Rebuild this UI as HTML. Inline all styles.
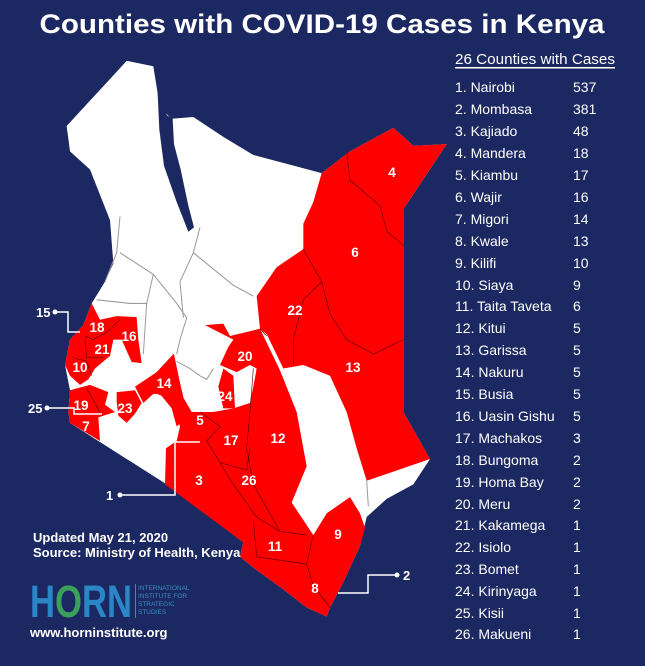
<!DOCTYPE html>
<html><head><meta charset="utf-8"><style>
html,body{margin:0;padding:0;background:#1c2862;}
svg{display:block;font-family:"Liberation Sans",sans-serif;}
</style></head><body>
<svg width="645" height="666" viewBox="0 0 645 666" xmlns="http://www.w3.org/2000/svg">
<rect width="645" height="666" fill="#1c2862"/>
<text x="322" y="33" text-anchor="middle" font-size="27" font-weight="bold" fill="#fff" textLength="565" lengthAdjust="spacingAndGlyphs">Counties with COVID-19 Cases in Kenya</text>

<g transform="translate(20,50) scale(0.33333,0.362)">
<polygon fill="#fff" points="320,30 400,45 420,160 455,190 520,185 610,240 700,290 905,340 990,280 1120,215 1180,265 1280,260 1150,440 1150,1000 1230,1130 1180,1200 1100,1240 1040,1290 1020,1370 970,1470 930,1540 920,1565 860,1540 790,1490 700,1430 660,1400 670,1360 440,1200 235,1080 150,1030 145,1000 150,940 135,870 150,800 190,760 215,700 255,640 280,590 270,470 210,330 150,280 140,210 200,150 260,90"/>
<polygon fill="#1c2862" points="412,100 440,180 458,190 462,260 482,330 505,430 522,490 505,502 470,420 432,320 418,220"/>
<g fill="none" stroke="#999" stroke-width="3">
<polyline points="300,460 290,560 255,640"/>
<polyline points="300,560 400,620 470,700 500,740 480,800 470,840"/>
<polyline points="400,620 380,700 370,840"/>
<polyline points="540,490 520,560 480,640 490,740"/>
<polyline points="520,560 640,650 700,680"/>
<polyline points="230,690 330,700 380,700"/>
<polyline points="470,860 510,880 540,900 560,910 580,880"/>
<polyline points="1040,1190 1045,1260"/>
</g>
<polygon fill="#f00" points="905,340 990,280 1120,215 1180,265 1280,260 1150,440 1150,1000 1230,1130 1040,1190 1010,1100 980,1000 930,900 850,870 790,880 740,785 720,770 710,680 770,600 850,550 850,480 880,420"/>
<polygon fill="#f00" points="555,760 610,756 630,790 720,770 780,885 830,1000 860,1150 815,1250 880,1340 920,1280 990,1235 1020,1280 1035,1320 1020,1370 970,1470 930,1540 920,1565 860,1540 790,1490 700,1430 660,1400 670,1360 435,1200 438,1100 470,1080 480,1040 470,1000 440,960 410,950 400,900 460,840 470,880 490,960 515,1000 580,1000 640,990 690,975 700,930 710,880 690,870 650,890 600,870 625,820 640,800"/>
<polygon fill="#f00" points="610,880 640,900 645,990 610,990 595,930"/>
<polygon fill="#f00" points="345,930 410,890 462,840 480,920 495,980 510,1010 470,1040 455,990 420,950 400,950 370,975"/>
<polygon fill="#f00" points="290,945 345,940 365,975 345,1005 320,1030 295,1010 290,970"/>
<polygon fill="#f00" points="215,700 240,745 290,735 350,738 355,800 365,865 335,862 305,800 280,800 270,845 225,880 205,910 180,925 150,900 135,870 150,800 190,760"/>
<polygon fill="#f00" points="150,940 210,925 265,945 255,980 285,1000 235,1015 240,1080 150,1030 145,1000"/>
<g fill="none" stroke="#600" stroke-width="2">
<polyline points="980,280 990,360 1080,430 1100,500 1150,540"/>
<polyline points="850,550 905,640 930,730 980,800 1060,840 1150,800"/>
<polyline points="905,640 850,690 820,800 820,870"/>
<polyline points="720,770 740,790"/>
<polyline points="700,880 690,1000 680,1100 700,1200 780,1330 860,1340"/>
<polyline points="540,1000 600,1040 560,1080 600,1140 640,1200 710,1290 780,1330"/>
<polyline points="600,1140 680,1160 690,1100"/>
<polyline points="700,1300 710,1400 860,1420 880,1340"/>
<polyline points="860,1420 880,1480 930,1540"/>
<polyline points="195,790 220,800 260,780 300,745"/>
<polyline points="195,800 200,850 250,850"/>
<polyline points="160,850 200,860 215,900"/>
<polyline points="200,935 240,1000"/>
</g>
</g>
<g fill="#fff" font-size="13.5" font-weight="bold" text-anchor="middle">
<text x="392" y="177">4</text><text x="355" y="257">6</text><text x="295" y="315">22</text>
<text x="353" y="372">13</text><text x="245" y="361">20</text><text x="278" y="443">12</text>
<text x="199" y="485">3</text><text x="249" y="485">26</text><text x="231" y="445">17</text>
<text x="200" y="425">5</text><text x="225" y="401">24</text><text x="164" y="388">14</text>
<text x="125" y="413">23</text><text x="81" y="410">19</text><text x="86" y="431">7</text>
<text x="80" y="372">10</text><text x="102" y="354">21</text><text x="129" y="341">16</text>
<text x="97" y="332">18</text><text x="275" y="551">11</text><text x="338" y="539">9</text>
<text x="315" y="593">8</text>
</g>

<g fill="none" stroke="#fff" stroke-width="1.5">
<polyline points="55,312 68,312 68,332 80,332"/>
<polyline points="47,408 74,408 74,414 102,414"/>
<polyline points="120,495 175,495 175,442 200,442"/>
<polyline points="397,575 368,575 368,593 338,593"/>
</g>
<g fill="#fff"><circle cx="55" cy="312" r="2.5"/><circle cx="47" cy="408" r="2.5"/><circle cx="120" cy="495" r="2.5"/><circle cx="397" cy="575" r="2.5"/></g>
<g fill="#fff" font-size="13" font-weight="bold">
<text x="36" y="317">15</text><text x="28" y="413">25</text><text x="106" y="500">1</text><text x="403" y="580">2</text>
</g>

<g fill="#fff" font-size="14">
<text x="455" y="64" font-size="15" textLength="160" lengthAdjust="spacingAndGlyphs">26 Counties with Cases</text>
<rect x="455" y="67" width="160" height="1.5"/>
<text x="455" y="92">1. Nairobi</text><text x="573" y="92">537</text>
<text x="455" y="114">2. Mombasa</text><text x="573" y="114">381</text>
<text x="455" y="136">3. Kajiado</text><text x="573" y="136">48</text>
<text x="455" y="158">4. Mandera</text><text x="573" y="158">18</text>
<text x="455" y="180">5. Kiambu</text><text x="573" y="180">17</text>
<text x="455" y="202">6. Wajir</text><text x="573" y="202">16</text>
<text x="455" y="224">7. Migori</text><text x="573" y="224">14</text>
<text x="455" y="246">8. Kwale</text><text x="573" y="246">13</text>
<text x="455" y="268">9. Kilifi</text><text x="573" y="268">10</text>
<text x="455" y="290">10. Siaya</text><text x="573" y="290">9</text>
<text x="455" y="311">11. Taita Taveta</text><text x="573" y="311">6</text>
<text x="455" y="333">12. Kitui</text><text x="573" y="333">5</text>
<text x="455" y="355">13. Garissa</text><text x="573" y="355">5</text>
<text x="455" y="377">14. Nakuru</text><text x="573" y="377">5</text>
<text x="455" y="399">15. Busia</text><text x="573" y="399">5</text>
<text x="455" y="421">16. Uasin Gishu</text><text x="573" y="421">5</text>
<text x="455" y="443">17. Machakos</text><text x="573" y="443">3</text>
<text x="455" y="465">18. Bungoma</text><text x="573" y="465">2</text>
<text x="455" y="487">19. Homa Bay</text><text x="573" y="487">2</text>
<text x="455" y="509">20. Meru</text><text x="573" y="509">2</text>
<text x="455" y="530">21. Kakamega</text><text x="573" y="530">1</text>
<text x="455" y="552">22. Isiolo</text><text x="573" y="552">1</text>
<text x="455" y="574">23. Bomet</text><text x="573" y="574">1</text>
<text x="455" y="596">24. Kirinyaga</text><text x="573" y="596">1</text>
<text x="455" y="618">25. Kisii</text><text x="573" y="618">1</text>
<text x="455" y="639">26. Makueni</text><text x="573" y="639">1</text>
</g>

<g fill="#fff" font-size="13" font-weight="bold">
<text x="33" y="542">Updated May 21, 2020</text>
<text x="33" y="557">Source: Ministry of Health, Kenya</text>
<text x="30" y="637">www.horninstitute.org</text>
</g>
<text x="30" y="617" font-size="45" font-weight="bold" fill="#2a86c6" textLength="102" lengthAdjust="spacingAndGlyphs">H<tspan fill="#3aa05a">O</tspan>RN</text>
<rect x="135" y="584" width="1" height="34" fill="#3a9a5a"/>
<g fill="#3a8fc0" font-size="6.5">
<text x="138" y="590">INTERNATIONAL</text>
<text x="138" y="598">INSTITUTE FOR</text>
<text x="138" y="606">STRATEGIC</text>
<text x="138" y="614">STUDIES</text>
</g>
</svg>
</body></html>
